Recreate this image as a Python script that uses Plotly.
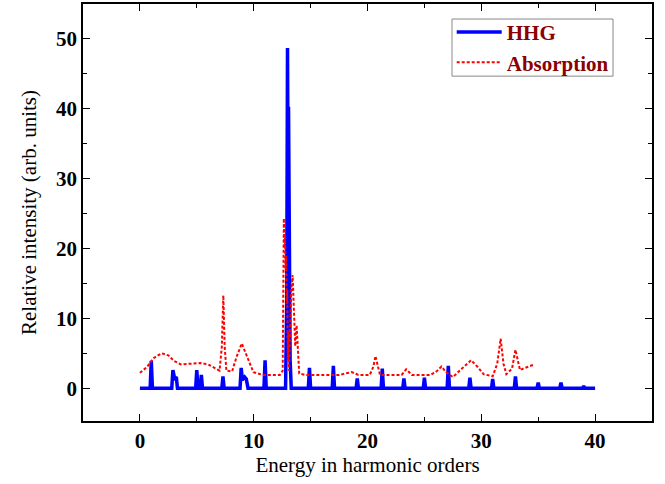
import plotly.graph_objects as go

# HHG spectrum (blue solid)
hhg_x = [0.0, 0.9, 1.0, 1.1,
         2.8, 2.9, 3.05, 3.2, 3.3,
         4.9, 5.0, 5.1, 5.3, 5.4, 5.5,
         7.2, 7.3, 7.4,
         8.8, 8.9, 9.0, 9.2, 9.35, 9.5,
         10.9, 11.0, 11.1,
         12.8, 12.9, 12.97, 13.02, 13.06, 13.1, 13.15, 13.2, 13.3,
         14.8, 14.9, 15.0,
         16.9, 17.0, 17.1,
         19.0, 19.1, 19.2,
         21.2, 21.3, 21.4,
         23.1, 23.2, 23.3,
         24.9, 25.0, 25.1,
         27.0, 27.1, 27.2,
         28.9, 29.0, 29.1,
         30.9, 31.0, 31.1,
         32.9, 33.0, 33.1,
         34.9, 35.0, 35.1,
         36.9, 37.0, 37.1,
         38.9, 39.0, 39.1,
         40.0]
hhg_y = [0, 0, 3.9, 0,
         0, 2.6, 1.4, 1.6, 0,
         0, 2.6, 0, 0, 1.9, 0,
         0, 1.7, 0,
         0, 2.9, 1.2, 1.6, 1.3, 0,
         0, 4.0, 0,
         0, 12, 48.7, 30, 40.3, 30, 15, 4, 0,
         0, 2.9, 0,
         0, 3.2, 0,
         0, 1.4, 0,
         0, 2.8, 0,
         0, 1.4, 0,
         0, 1.5, 0,
         0, 3.2, 0,
         0, 1.5, 0,
         0, 1.3, 0,
         0, 1.7, 0,
         0, 0.8, 0,
         0, 0.8, 0,
         0, 0.3, 0,
         0]

# Absorption spectrum (red dashed)
abs_x = [0.0, 0.6, 1.2, 1.9, 2.5, 3.0, 3.6, 4.5, 5.3, 6.0, 6.6, 7.0, 7.2, 7.33, 7.45, 7.6,
         8.1, 8.5, 8.95, 9.4, 9.97, 10.8, 12.3, 12.55, 12.65, 12.7, 12.75, 12.8, 12.85,
         12.9, 12.95, 13.0, 13.05, 13.1, 13.2, 13.3, 13.42, 13.55, 13.65, 13.77, 13.9,
         14.0, 14.5, 16.7, 17.5, 18.6, 19.2, 20.2, 20.5, 20.7, 20.9, 21.1, 23.0, 23.4,
         23.9, 25.5, 26.0, 26.5, 26.9, 27.5, 28.3, 29.1, 29.7, 30.2, 31.0, 31.4, 31.7,
         31.95, 32.2, 32.7, 33.0, 33.4, 34.0, 34.7]
abs_y = [2.2, 3.0, 4.3, 5.0, 4.7, 3.9, 3.4, 3.5, 3.6, 3.4, 2.8, 2.5, 6.0, 13.3, 6.0, 2.5,
         2.4, 4.5, 6.4, 4.5, 2.3, 1.9, 1.9, 2.5, 24.3, 20, 22, 17, 19,
         12, 14, 4, 8, 2.5, 8, 14, 16.2, 11, 6, 9.0, 5,
         2.1, 1.9, 1.9, 1.9, 2.3, 1.9, 1.9, 3.0, 4.6, 3.0, 1.9, 1.9, 2.7,
         1.9, 1.9, 2.3, 3.1, 2.3, 1.6, 2.8, 4.0, 3.0, 2.0, 1.7, 3.5, 7.1,
         3.5, 2.0, 2.8, 5.5, 2.6, 3.0, 3.4]

x_ticks = [0, 10, 20, 30, 40]
y_ticks = [0, 10, 20, 30, 40, 50]

fig = go.Figure()
fig.add_trace(go.Scatter(x=hhg_x, y=hhg_y, mode="lines", name="HHG",
                         line=dict(color="#0000ff", width=3.5)))
fig.add_trace(go.Scatter(x=abs_x, y=abs_y, mode="lines", name="Absorption",
                         line=dict(color="#ff0000", width=2, dash="3px,2px")))

serif = "Liberation Serif"
axis_common = dict(showline=True, linecolor="black", linewidth=1.5, mirror="allticks",
                   ticks="inside", ticklen=7, tickwidth=1.2, tickcolor="black",
                   showgrid=False, zeroline=False, automargin=False,
                   tickfont=dict(family=serif, size=21, color="black", weight="bold"),
                   minor=dict(ticks="inside", ticklen=4, tickwidth=1, tickcolor="black"))

fig.update_xaxes(range=[-5, 45], tickvals=x_ticks, minor_dtick=5,
                 title=dict(text="Energy in harmonic orders", standoff=2,
                            font=dict(family=serif, size=21, color="black")),
                 **axis_common)
fig.update_yaxes(range=[-4.7, 55], tickvals=y_ticks, minor_dtick=5,
                 title=dict(text="Relative intensity (arb. units)", standoff=14,
                            font=dict(family=serif, size=21, color="black")),
                 **axis_common)

# legend frame (drawn separately so its size matches the original)
fig.add_shape(type="rect", xref="paper", yref="paper",
              x0=0.6485, x1=0.9315, y0=0.827, y1=0.964,
              line=dict(color="#888888", width=1), fillcolor="white", layer="below")

fig.update_layout(
    width=665, height=484,
    margin=dict(l=83, r=13, t=4, b=63),
    plot_bgcolor="white", paper_bgcolor="white",
    showlegend=True,
    legend=dict(x=0.648, y=0.981, xanchor="left", yanchor="top",
                bgcolor="rgba(0,0,0,0)", borderwidth=0,
                font=dict(family=serif, size=21, color="#8B0000", weight="bold"),
                itemwidth=45, tracegroupgap=0),
)

fig.write_html("out.html", config={"displayModeBar": False},
               post_script="document.body.style.margin='0';document.body.style.padding='0';")
